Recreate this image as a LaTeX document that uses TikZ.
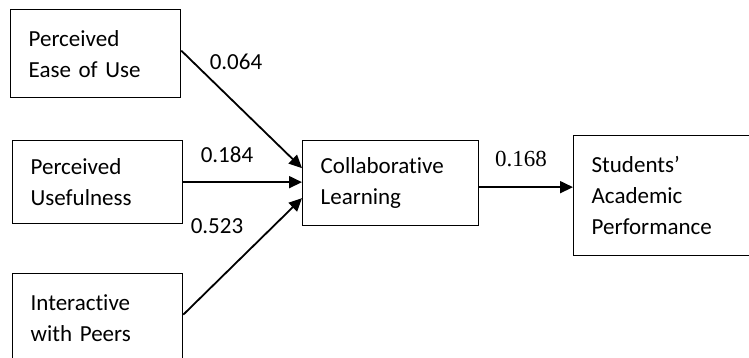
\documentclass[tikz,border=0pt]{standalone}
\usepackage{fontspec}
\setmainfont{Carlito}[Ligatures=CommonOff]
\newfontfamily\numfont{Liberation Serif}
\usetikzlibrary{arrows.meta}

\tikzset{
  factor/.style={draw,line width=1.3pt,anchor=north west,align=left,
    inner xsep=18pt,inner ysep=0pt,font=\fontsize{23}{31}\selectfont},
  path/.style={line width=1.8pt,-{Triangle[length=13pt,width=12pt]}},
  coef/.style={font=\fontsize{23}{31}\selectfont,inner sep=0pt}
}

\begin{document}
\begin{tikzpicture}[x=1pt,y=-1pt]
\useasboundingbox (0,0) rectangle (749,358);
% predictors
\node[factor,text width=134pt,minimum height=88pt] (peou) at (10,9) {Perceived\\Ease of Use};
\node[factor,text width=134pt,minimum height=83pt] (pu) at (12,140) {Perceived\\Usefulness};
\node[factor,text width=134pt,minimum height=90pt] (iwp) at (12,273) {Interactive\\with Peers};
% mediator and outcome
\node[factor,text width=140pt,minimum height=85pt] (cl) at (302,140) {Collaborative\\Learning};
\node[factor,text width=160pt,minimum height=120pt] (sap) at (573,135) {Students’\\Academic\\Performance};

\draw[path] ([yshift=3pt]peou.east) -- ([yshift=15pt]cl.west);
\draw[path] (pu.east) -- (pu.east -| cl.west);
\draw[path] ([yshift=4pt]iwp.east) -- ([yshift=-15pt]cl.west);
\draw[path] ([yshift=-4pt]cl.east) -- ([yshift=-4pt]cl.east -| sap.west);

\node[coef] (c1) at (236,62) {0.064};
\node[coef] (c2) at (227,155) {0.184};
\node[coef] (c3) at (217,226) {0.523};
\node[coef,font=\numfont\fontsize{23}{31}\selectfont] (c4) at (521,159) {0.168};
\end{tikzpicture}
\end{document}
